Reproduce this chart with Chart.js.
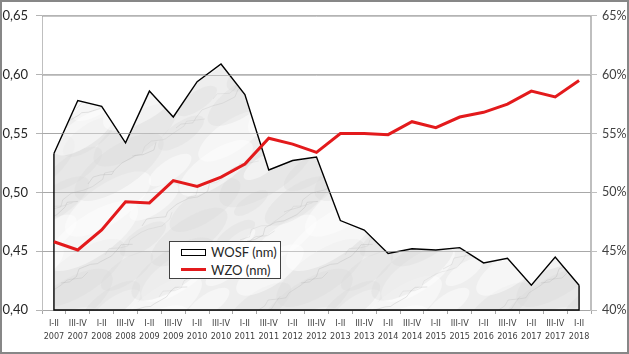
<!DOCTYPE html>
<html><head><meta charset="utf-8">
<script src="https://cdn.jsdelivr.net/npm/chart.js@4/dist/chart.umd.min.js"></script>
<style>
html,body{margin:0;padding:0;background:#fff;}
#wrap{position:relative;width:629px;height:354px;overflow:hidden;}
canvas{display:block;}
#legend{position:absolute;left:169px;top:241px;width:110px;height:36px;border:1px solid #404040;background:#fff;font-family:Lato,sans-serif;font-size:13px;color:#262626;}
.item{position:absolute;left:0;height:18px;line-height:18px;white-space:nowrap;}
.item span{position:absolute;left:41px;top:0;}
.sym-box{position:absolute;left:11px;top:6px;width:23px;height:5px;border:1px solid #000;background:#fff;}
.sym-line{position:absolute;left:11px;top:7px;width:25px;height:3px;background:#e31a1c;}
</style></head>
<body>
<div id="wrap">
<canvas id="c" width="629" height="354"></canvas>
<div id="legend">
  <div class="item" style="top:1px"><div class="sym-box"></div><span id="l0"></span></div>
  <div class="item" style="top:19px"><div class="sym-line"></div><span id="l1"></span></div>
</div>
</div>
<script>
const periods = ['I-II','III-IV','I-II','III-IV','I-II','III-IV','I-II','III-IV','I-II','III-IV','I-II','III-IV','I-II','III-IV','I-II','III-IV','I-II','III-IV','I-II','III-IV','I-II','III-IV','I-II'];
const years = ['2007','2007','2008','2008','2009','2009','2010','2010','2011','2011','2012','2012','2013','2013','2014','2014','2015','2015','2016','2016','2017','2017','2018'];
const wosf = [0.533,0.578,0.573,0.542,0.586,0.564,0.594,0.609,0.583,0.519,0.527,0.530,0.476,0.468,0.448,0.452,0.451,0.453,0.440,0.444,0.421,0.445,0.421];
const wzo = [45.8,45.1,46.8,49.2,49.1,51.0,50.5,51.3,52.4,54.6,54.1,53.4,55.0,55.0,54.9,56.0,55.5,56.4,56.8,57.5,58.6,58.1,59.5];
const seriesNames = ['WOSF (nm)','WZO (nm)'];
const leftTicks = {min:0.40,max:0.65,step:0.05};
const rightTicks = {min:40,max:65,step:5};

document.getElementById('l0').textContent = seriesNames[0];
document.getElementById('l1').textContent = seriesNames[1];

// marble-like texture (deterministic, seamless tile)
function marble(){
  const s=240, c=document.createElement('canvas'); c.width=s; c.height=s;
  const g=c.getContext('2d');
  g.fillStyle='#eeeeee'; g.fillRect(0,0,s,s);
  const offs=[[0,0],[s,0],[-s,0],[0,s],[0,-s],[s,s],[-s,-s],[s,-s],[-s,s]];
  for(let k=0;k<40;k++){
    const x=(k*89)%s, y=(k*137)%s, r=10+(k*7)%22;
    g.fillStyle = (k%2===0)?'rgba(255,255,255,0.45)':'rgba(215,215,215,0.30)';
    offs.forEach(o=>{g.beginPath(); g.ellipse(x+o[0],y+o[1],r*1.8,r*0.7,-0.6,0,Math.PI*2); g.fill();});
  }
  g.lineWidth=0.7;
  for(let k=0;k<18;k++){
    g.strokeStyle = 'rgba(165,165,165,'+(0.22+0.08*(k%3))+')';
    const x0=(k*71)%s, y0=(k*113)%s;
    offs.forEach(o=>{
      g.beginPath(); g.moveTo(x0+o[0],y0+o[1]);
      for(let t=1;t<=10;t++){
        g.lineTo(x0+o[0]+t*7+Math.sin(t*2.1+k)*3, y0+o[1]-t*4+Math.cos(t*1.3+k)*3);
      }
      g.stroke();
    });
  }
  return g.createPattern(c,'repeat');
}

const ctx=document.getElementById('c').getContext('2d');
const gridColor='#b4b4b4';

const areaSides = {
  id:'areaSides',
  afterDatasetDraw(chart,args){
    if(args.index!==0) return;
    const meta=chart.getDatasetMeta(0), pts=meta.data;
    const y=chart.scales.y, a=chart.chartArea, c=chart.ctx;
    c.save();
    c.beginPath(); c.rect(a.left,a.top,a.right-a.left,a.bottom-a.top); c.clip();
    c.strokeStyle='rgba(160,160,160,0.6)'; c.lineWidth=1;
    y.ticks.forEach(t=>{const py=Math.round(y.getPixelForValue(t.value))+0.5; if(py<a.bottom-1){c.beginPath();c.moveTo(a.left,py);c.lineTo(a.right,py);c.stroke();}});
    c.restore();
    c.save();
    c.strokeStyle='#000'; c.lineWidth=1.4;
    const p0=pts[0], p1=pts[pts.length-1], b=y.getPixelForValue(y.min);
    c.beginPath(); c.moveTo(p0.x,p0.y); c.lineTo(p0.x,b); c.lineTo(p1.x,b); c.lineTo(p1.x,p1.y); c.stroke();
    c.restore();
  }
};
const frame = {
  id:'frame',
  afterDraw(chart){
    const c=chart.ctx; c.save(); c.strokeStyle='#878787'; c.lineWidth=2;
    c.strokeRect(1,1,chart.width-2,chart.height-2); c.restore();
  }
};

new Chart(ctx,{
  data:{
    labels: periods.map((p,i)=>[p,years[i]]),
    datasets:[
      {type:'line',label:seriesNames[0],data:wosf,yAxisID:'y',order:2,
       borderColor:'#000',borderWidth:1.4,pointRadius:0,tension:0,
       fill:'start',backgroundColor:marble()},
      {type:'line',label:seriesNames[1],data:wzo,yAxisID:'y1',order:1,
       borderColor:'#e31a1c',borderWidth:3,pointRadius:0,tension:0,fill:false}
    ]
  },
  options:{
    responsive:false,animation:false,devicePixelRatio:1,
    layout:{padding:{top:15,left:0,right:0,bottom:0}},
    plugins:{legend:{display:false},tooltip:{enabled:false}},
    scales:{
      x:{type:'category',offset:true,
        grid:{offset:true,drawOnChartArea:false,drawTicks:true,tickLength:4,color:'#a6a6a6'},
        border:{display:true,color:'#a6a6a6',width:1},
        ticks:{autoSkip:false,maxRotation:0,minRotation:0,padding:3,color:'#404040',
          font:{family:'"DejaVu Sans Condensed","DejaVu Sans",sans-serif',size:9,lineHeight:1.45}},
        afterFit(s){s.height=44;}
      },
      y:{position:'left',min:leftTicks.min,max:leftTicks.max,
        grid:{color:gridColor,tickLength:6,drawTicks:true},
        border:{display:true,color:'#bfbfbf',width:1},
        ticks:{stepSize:leftTicks.step,padding:8,color:'#262626',
          font:{family:'Lato',size:13},
          callback:v=>v.toFixed(2).replace('.',',')},
        afterFit(s){s.width=42;}
      },
      y1:{position:'right',min:rightTicks.min,max:rightTicks.max,
        grid:{drawOnChartArea:false,tickLength:6,color:'#bfbfbf'},
        border:{display:true,color:'#bfbfbf',width:2},
        ticks:{stepSize:rightTicks.step,padding:5,color:'#404040',
          font:{family:'Lato',size:12.5},
          callback:v=>v+'%'},
        afterFit(s){s.width=38;}
      }
    }
  },
  plugins:[areaSides,frame]
});
</script>
</body></html>
